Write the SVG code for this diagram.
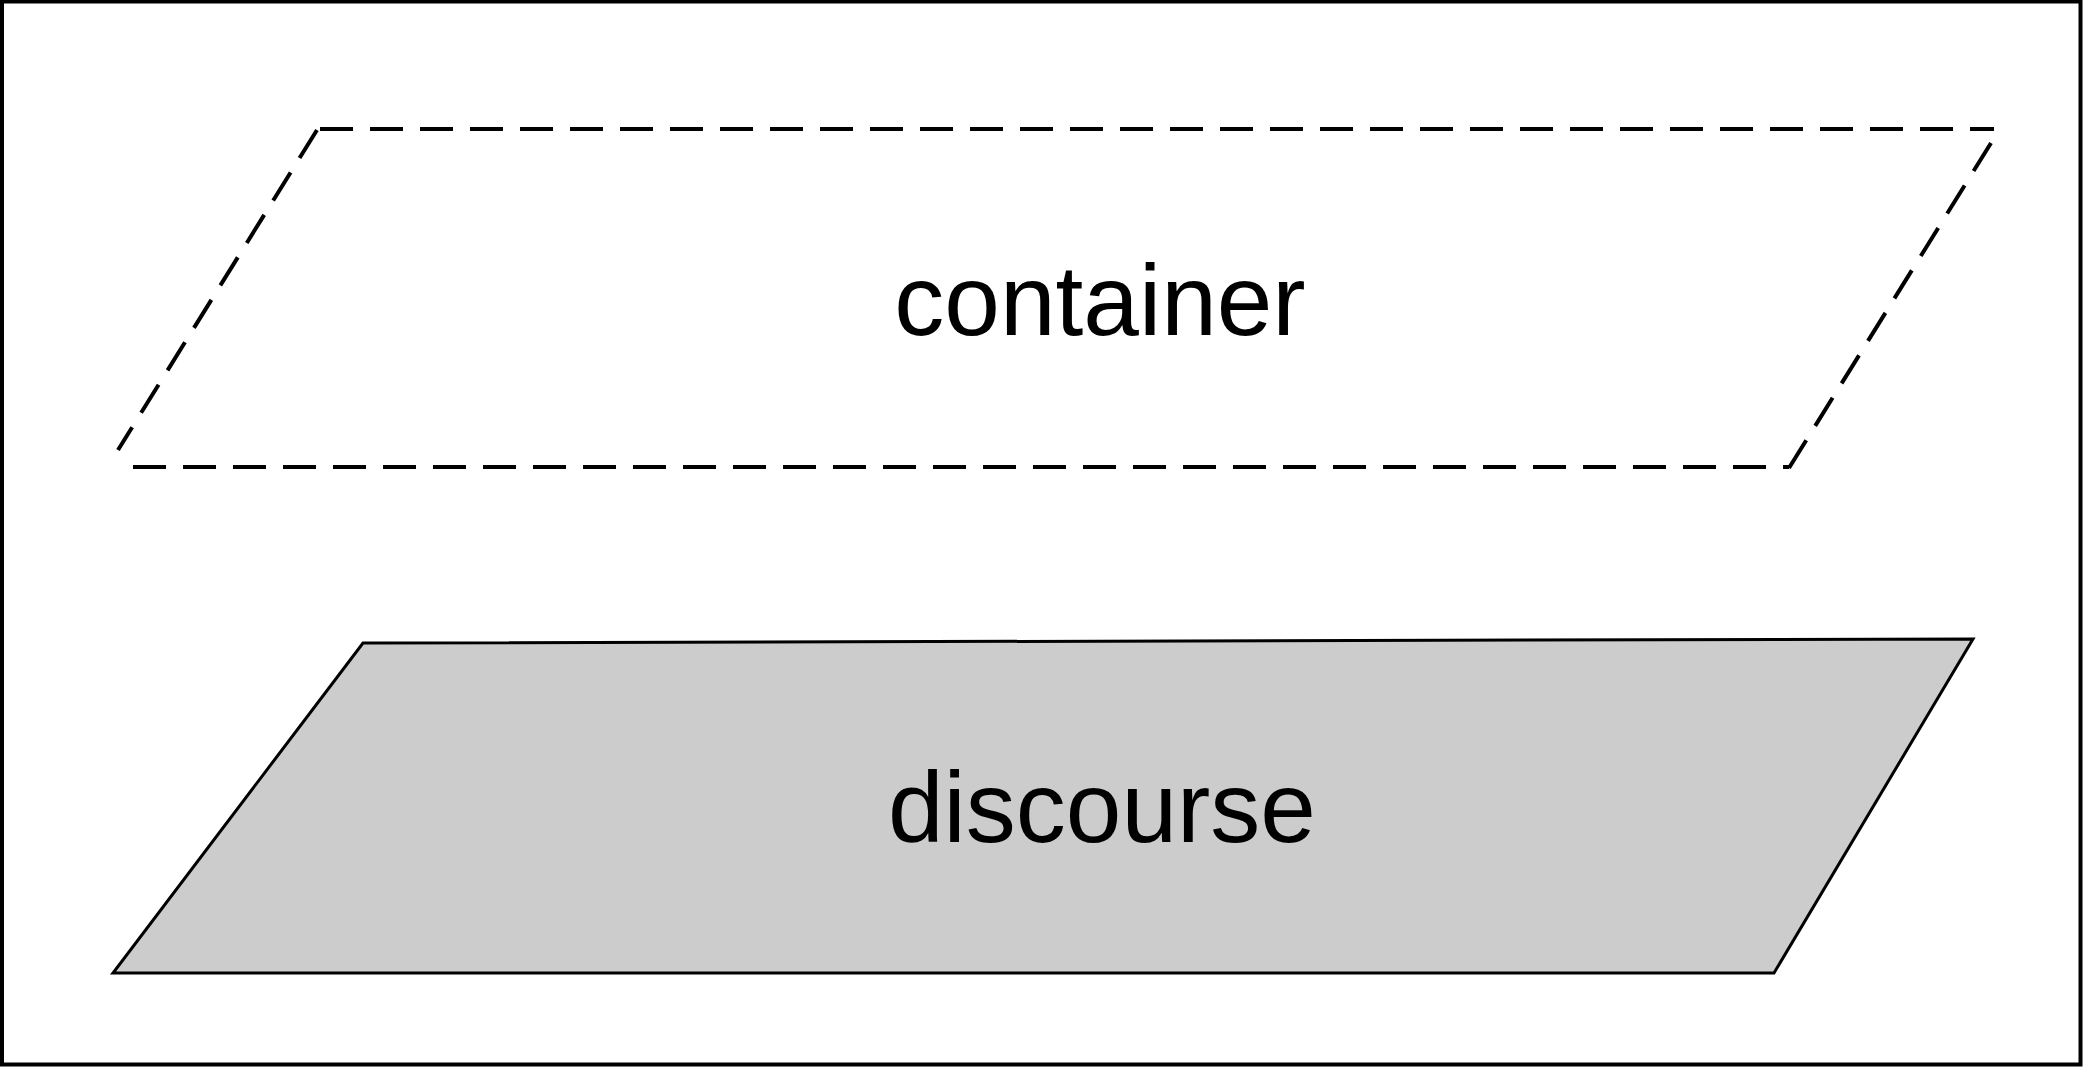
<svg xmlns="http://www.w3.org/2000/svg" width="2083" height="1067" viewBox="0 0 2083 1067">
<style>
.dash{fill:none;stroke:#000;stroke-width:4;stroke-dasharray:33 17}
.solid{fill:#cccccc;stroke:#000;stroke-width:3;stroke-linejoin:miter}
.lbl{font-family:"Liberation Sans",Arial,sans-serif;font-size:100px;fill:#000;text-anchor:middle}
</style>
<rect x="2" y="1.5" width="2078.5" height="1063" fill="#fff" stroke="#000" stroke-width="4"/>
<g id="container">
<line class="dash" x1="320" y1="129" x2="1994" y2="129"/>
<line class="dash" x1="1991" y1="143" x2="1789" y2="468"/>
<line class="dash" x1="133" y1="467" x2="1789" y2="467"/>
<line class="dash" x1="317" y1="130" x2="118" y2="450"/>
<text class="lbl" x="1100" y="335">container</text>
</g>
<g id="discourse">
<polygon class="solid" points="363,643 1973,639 1774,973 113,973"/>
<text class="lbl" x="1102" y="842">discourse</text>
</g>
<g id="connectors"/>
</svg>
